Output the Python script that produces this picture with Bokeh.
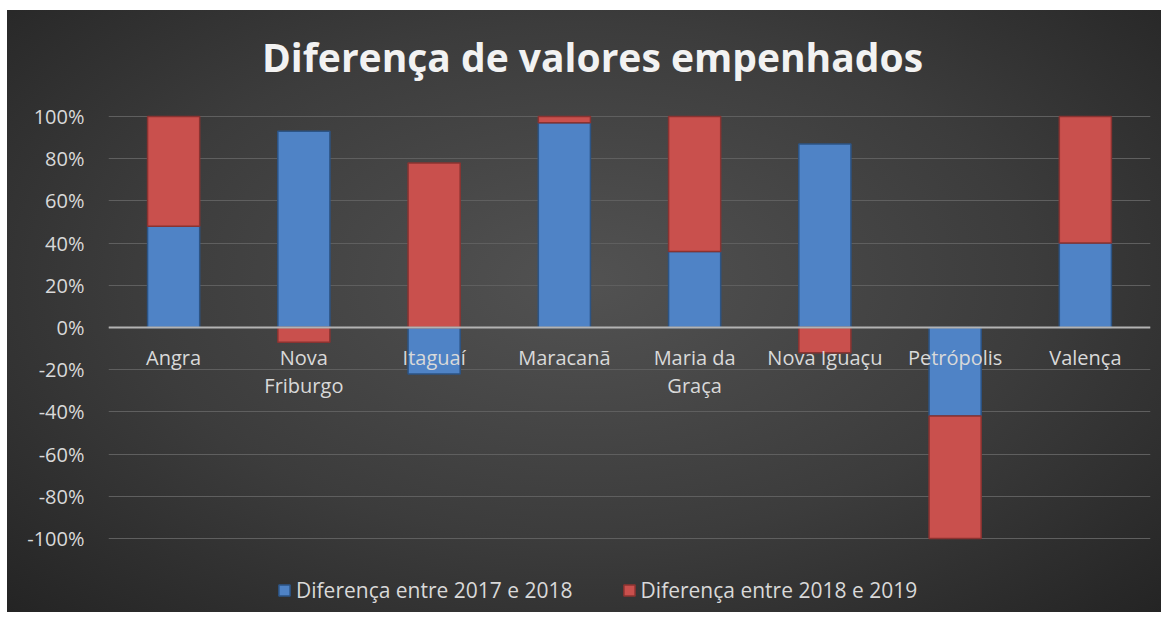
from bokeh.plotting import figure
from bokeh.models import (Legend, LegendItem, Span, ColumnDataSource, FixedTicker,
                          PrintfTickFormatter, Range1d, FactorRange, InlineStyleSheet, Label)
from bokeh.core.properties import value
from bokeh.embed import file_html
from bokeh.resources import INLINE

# ---- data ----
title_text = "Diferença de valores empenhados"
categories = ["Angra", "Nova Friburgo", "Itaguaí", "Maracanã", "Maria da Graça",
              "Nova Iguaçu", "Petrópolis", "Valença"]
axis_labels = ["Angra", "Nova\nFriburgo", "Itaguaí", "Maracanã", "Maria da\nGraça",
               "Nova Iguaçu", "Petrópolis", "Valença"]
diff_2017_2018 = [48, 93, -22, 97, 36, 87, -42, 40]
diff_2018_2019 = [52, -7, 78, 3, 64, -12, -58, 60]
series_names = ["Diferença entre 2017 e 2018", "Diferença entre 2018 e 2019"]
y_ticks = [-100, -80, -60, -40, -20, 0, 20, 40, 60, 80, 100]

FONT = "Open Sans"
TXT = "#d9d9d9"

css = InlineStyleSheet(css=":host { margin-left: 7px; margin-top: 10px; }")

# frame spans the whole figure height so that title and legend live inside it
p = figure(width=1154, height=602, x_range=FactorRange(*categories),
           y_range=Range1d(-135.07, 150.24), output_backend="svg", toolbar_location=None,
           min_border_left=101, min_border_right=11, min_border_top=0,
           min_border_bottom=0)
p.styles = {"background": "radial-gradient(ellipse at 50% 45%, #525252 0%, #3c3c3c 55%, #242424 100%)"}
p.stylesheets = [css]
p.background_fill_alpha = 0
p.border_fill_alpha = 0
p.outline_line_color = None

title = Label(x=484, y=556, x_units="screen", y_units="screen", text=title_text,
              text_align="center", text_baseline="alphabetic", text_font=FONT,
              text_font_size="39px", text_font_style="bold", text_color="#f2f2f2")
p.add_layout(title)

# stacking (positives and negatives stacked separately)
pos = [0.0] * len(categories)
neg = [0.0] * len(categories)
colors = ["#4f83c6", "#c9504d"]
lines = ["#2c5485", "#8a3331"]
renderers = []
for vals, col, lc in zip([diff_2017_2018, diff_2018_2019], colors, lines):
    bottoms, tops = [], []
    for i, v in enumerate(vals):
        if v >= 0:
            b = pos[i]; pos[i] += v
        else:
            b = neg[i]; neg[i] += v
        bottoms.append(b); tops.append(b + v)
    src = ColumnDataSource(dict(x=categories, bottom=bottoms, top=tops))
    r = p.vbar(x="x", bottom="bottom", top="top", width=0.4, source=src,
               fill_color=col, line_color=lc, line_width=1.5)
    renderers.append(r)

p.add_layout(Span(location=0, dimension="width", line_color="#b3b3b3", line_width=2))

lab_src = ColumnDataSource(dict(x=categories, y=[0] * len(categories), t=axis_labels))
p.text(x="x", y="y", text="t", source=lab_src, text_align="center",
       text_baseline="top", y_offset=16, text_font=value(FONT),
       text_font_size="20px", text_color=TXT, text_line_height=1.05)

p.xaxis.visible = False
p.xgrid.grid_line_color = None
p.ygrid.ticker = FixedTicker(ticks=y_ticks)
p.ygrid.grid_line_color = "#5f5f5f"
p.ygrid.grid_line_width = 1

p.yaxis.ticker = FixedTicker(ticks=y_ticks)
p.yaxis.formatter = PrintfTickFormatter(format="%d%%")
p.yaxis.axis_line_color = None
p.yaxis.major_tick_line_color = None
p.yaxis.minor_tick_line_color = None
p.yaxis.major_label_text_font = FONT
p.yaxis.major_label_text_font_size = "20px"
p.yaxis.major_label_text_color = TXT
p.yaxis.major_label_standoff = 18

legend = Legend(items=[LegendItem(label=n, renderers=[r]) for n, r in zip(series_names, renderers)],
                orientation="horizontal", location=(169, 8),
                background_fill_alpha=0, border_line_color=None,
                label_text_font=FONT, label_text_font_size="21px",
                label_text_color=TXT, glyph_width=14, glyph_height=14,
                spacing=49, margin=0, padding=0, label_standoff=5)
p.add_layout(legend)

open("out.html", "w").write(file_html(p, INLINE))
